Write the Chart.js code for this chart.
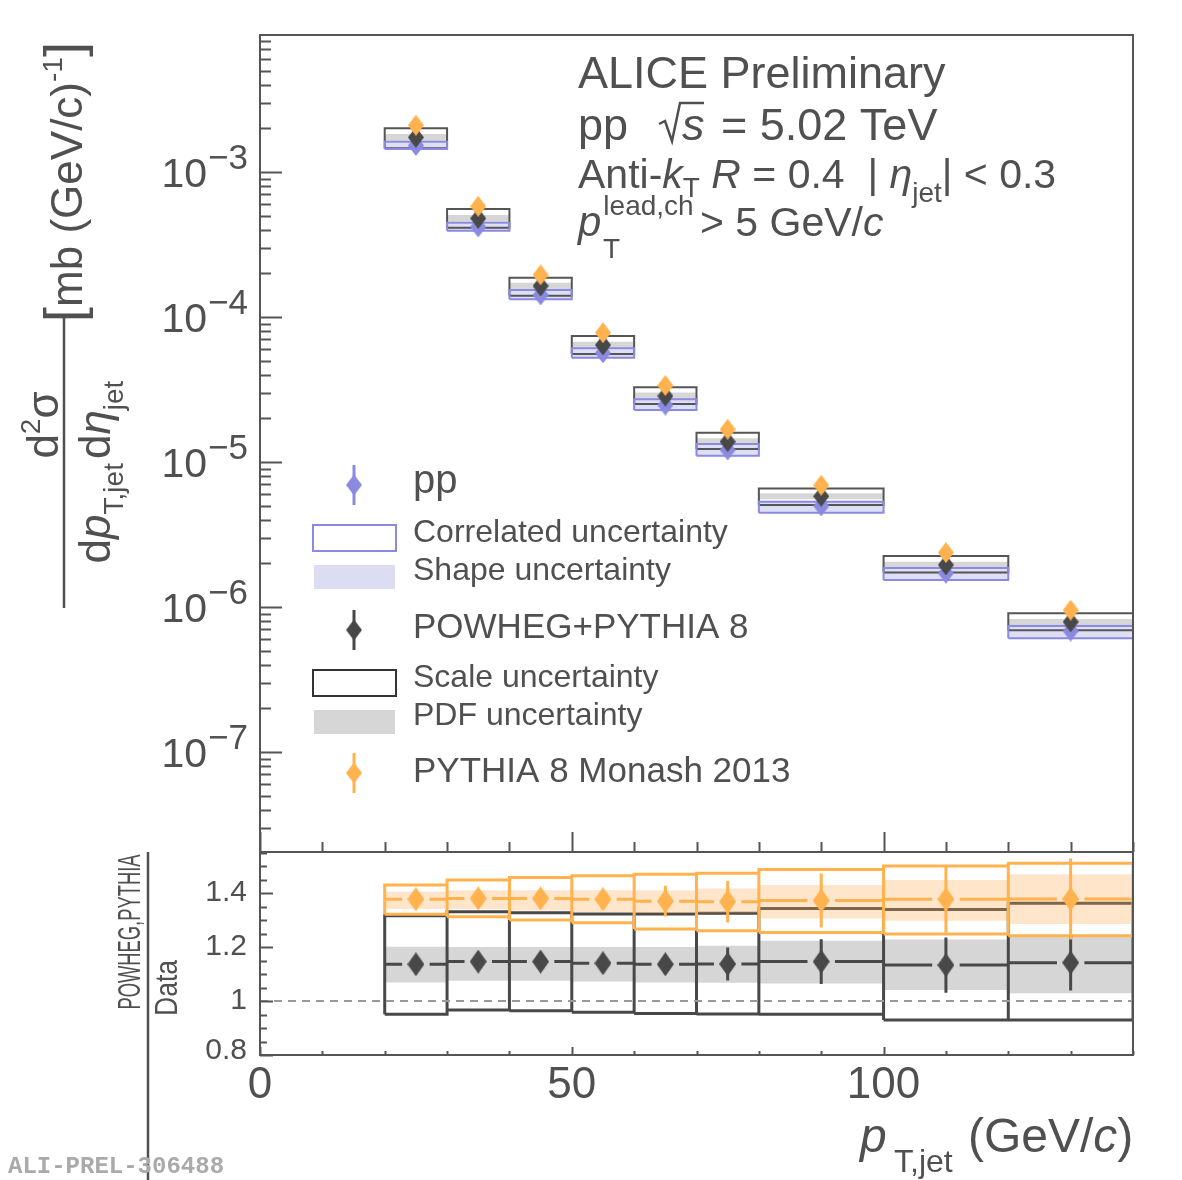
<!DOCTYPE html>
<html>
<head>
<meta charset="utf-8">
<script src="https://cdn.jsdelivr.net/npm/chart.js@4.4.1/dist/chart.umd.min.js"></script>
<style>
  html, body { margin: 0; padding: 0; background: #fff; }
  #wrap { position: relative; width: 1182px; height: 1180px; }
  canvas { position: absolute; left: 0; }
  #topChart { top: 0; }
  #ratioChart { top: 850px; }
</style>
</head>
<body>
<div id="wrap">
  <canvas id="topChart" width="1182" height="860" style="width:1182px;height:860px"></canvas>
  <canvas id="ratioChart" width="1182" height="330" style="width:1182px;height:330px"></canvas>
</div>
<script>
// jet pT bins (GeV/c)
const binLo = [20, 30, 40, 50, 60, 70, 80, 100, 120];
const binHi = [30, 40, 50, 60, 70, 80, 100, 120, 140];
const binMid = [25, 35, 45, 55, 65, 75, 90, 110, 130];

// cross sections, mb (GeV/c)^-1
const ppXsec = [1.524e-3, 4.18e-4, 1.418e-4, 5.65e-5, 2.47e-5, 1.21e-5, 4.97e-6, 1.71e-6, 6.82e-7];
const ppCorrHi = [1.618e-3, 4.47e-4, 1.536e-4, 6.08e-5, 2.71e-5, 1.33e-5, 5.32e-6, 1.858e-6, 7.40e-7];
const ppCorrLo = [1.441e-3, 3.94e-4, 1.325e-4, 5.24e-5, 2.28e-5, 1.105e-5, 4.47e-6, 1.536e-6, 6.08e-7];
const ppShapeHi = [1.60e-3, 4.42e-4, 1.52e-4, 6.00e-5, 2.68e-5, 1.32e-5, 5.40e-6, 1.88e-6, 7.55e-7];
const ppShapeLo = [1.45e-3, 3.97e-4, 1.335e-4, 5.28e-5, 2.30e-5, 1.115e-5, 4.50e-6, 1.55e-6, 6.10e-7];
const powXsec = [1.734e-3, 4.79e-4, 1.636e-4, 6.41e-5, 2.85e-5, 1.38e-5, 5.80e-6, 1.95e-6, 7.88e-7];
const powScaleHi = [2.001e-3, 5.56e-4, 1.866e-4, 7.39e-5, 3.27e-5, 1.592e-5, 6.55e-6, 2.25e-6, 9.05e-7];
const powScaleLo = [1.457e-3, 4.13e-4, 1.403e-4, 5.56e-5, 2.51e-5, 1.23e-5, 5.05e-6, 1.726e-6, 6.91e-7];
const powPdfHi = [1.828e-3, 5.05e-4, 1.724e-4, 6.76e-5, 3.01e-5, 1.457e-5, 6.08e-6, 2.05e-6, 8.26e-7];
const powPdfLo = [1.644e-3, 4.54e-4, 1.552e-4, 6.08e-5, 2.71e-5, 1.31e-5, 5.53e-6, 1.849e-6, 7.48e-7];
const pyXsec = [2.10e-3, 5.80e-4, 1.95e-4, 7.79e-5, 3.37e-5, 1.68e-5, 6.91e-6, 2.37e-6, 9.50e-7];

// ratios to data
const powRatio = [1.136, 1.146, 1.146, 1.140, 1.136, 1.137, 1.146, 1.133, 1.142];
const powRatioErr = [0.010, 0.015, 0.020, 0.025, 0.035, 0.061, 0.083, 0.102, 0.103];
const powRatioScaleHi = [1.316, 1.331, 1.327, 1.322, 1.322, 1.325, 1.343, 1.339, 1.362];
const powRatioScaleLo = [0.951, 0.967, 0.964, 0.958, 0.954, 0.952, 0.951, 0.930, 0.930];
const powRatioPdfHi = [1.201, 1.200, 1.200, 1.200, 1.200, 1.205, 1.223, 1.228, 1.241];
const powRatioPdfLo = [1.069, 1.075, 1.075, 1.072, 1.069, 1.068, 1.065, 1.041, 1.029];
const pyRatio = [1.377, 1.380, 1.380, 1.377, 1.370, 1.368, 1.372, 1.377, 1.378];
const pyRatioErr = [0.015, 0.020, 0.025, 0.035, 0.057, 0.077, 0.100, 0.123, 0.150];
const pyRatioBoxHi = [1.430, 1.448, 1.458, 1.464, 1.470, 1.473, 1.487, 1.500, 1.510];
const pyRatioBoxLo = [1.321, 1.312, 1.300, 1.290, 1.267, 1.260, 1.254, 1.248, 1.242];
const pyRatioBandHi = [1.405, 1.410, 1.410, 1.410, 1.410, 1.417, 1.430, 1.448, 1.470];
const pyRatioBandLo = [1.341, 1.340, 1.335, 1.330, 1.325, 1.325, 1.306, 1.297, 1.285];

// axes
const xTicks = [0, 10, 20, 30, 40, 50, 60, 70, 80, 90, 100, 110, 120, 130, 140];
const xLabels = [0, 50, 100];
const yDecades = [-8, -7, -6, -5, -4, -3, -2];
const yLabelDecades = [-7, -6, -5, -4, -3];
const ratioTicks = [0.8, 0.85, 0.9, 0.95, 1.0, 1.05, 1.1, 1.15, 1.2, 1.25, 1.3, 1.35, 1.4, 1.45, 1.5, 1.55];
const ratioLabels = [0.8, 1, 1.2, 1.4];

const FONT = '"Liberation Sans", Arial, Helvetica, sans-serif';
const TXT = '#505050';
const FRAME = '#555555';
const BLUE = '#8a8ae0';
const DARK = '#484848';
const ORANGE = '#ffb24d';
const GRAY_BAND = '#d6d6d6';
const LAV = 'rgba(160,160,228,0.35)';

function diamond(color, w, h) {
  const c = document.createElement('canvas');
  c.width = w; c.height = h;
  const g = c.getContext('2d');
  g.fillStyle = color;
  g.beginPath();
  g.moveTo(w / 2, 0); g.lineTo(w, h / 2); g.lineTo(w / 2, h); g.lineTo(0, h / 2);
  g.closePath();
  g.fill();
  return c;
}
const dBlue = diamond(BLUE, 16, 21);
const dDark = diamond(DARK, 16, 21);
const dOrange = diamond(ORANGE, 16, 21);
const dDarkR = diamond(DARK, 17, 24);
const dOrangeR = diamond(ORANGE, 17, 24);

// step outline: flat over each bin, vertical jump at bin edges
function stepPts(vals) {
  const pts = [];
  binLo.forEach((x0, i) => {
    pts.push({ x: x0, y: vals[i] }, { x: binHi[i], y: vals[i] });
  });
  return pts;
}
function boxPts(lo, hi) {
  const pts = [];
  binLo.forEach((x0, i) => {
    const x1 = binHi[i];
    pts.push({ x: x0, y: lo[i] }, { x: x0, y: hi[i] }, { x: x1, y: hi[i] },
             { x: x1, y: lo[i] }, { x: x0, y: lo[i] }, { x: x1, y: null });
  });
  return pts;
}
function hBarPts(vals, gap) {
  const pts = [];
  binMid.forEach((m, i) => {
    pts.push({ x: binLo[i], y: vals[i] }, { x: m - gap, y: vals[i] }, { x: m, y: null },
             { x: m + gap, y: vals[i] }, { x: binHi[i], y: vals[i] }, { x: binHi[i], y: null });
  });
  return pts;
}
function vBarPts(vals, errs) {
  const pts = [];
  binMid.forEach((m, i) => {
    pts.push({ x: m, y: vals[i] - errs[i] }, { x: m, y: vals[i] + errs[i] }, { x: m, y: null });
  });
  return pts;
}
function markerPts(vals) {
  return binMid.map((x, i) => ({ x: x, y: vals[i] }));
}

function lineDs(data, color, width, extra) {
  return Object.assign({
    type: 'line', data: data, borderColor: color, borderWidth: width,
    pointRadius: 0, fill: false, spanGaps: false, tension: 0
  }, extra || {});
}
function markerDs(data, img) {
  return { type: 'scatter', data: data, pointStyle: img, pointRadius: 10, showLine: false };
}
// band = pair of step lines, the second filled down to the first
function addBand(list, lo, hi, color) {
  const idx = list.length;
  list.push(lineDs(stepPts(lo), 'rgba(0,0,0,0)', 0));
  list.push(lineDs(stepPts(hi), 'rgba(0,0,0,0)', 0, { fill: { target: idx }, backgroundColor: color }));
}
function setOrder(list) {
  list.forEach((d, i) => { d.order = list.length - i; });
  return list;
}

// ---------- text helpers ----------
function rich(ctx, x, y, parts, color) {
  let cx = x;
  parts.forEach(p => {
    ctx.font = (p.it ? 'italic ' : '') + p.s + 'px ' + FONT;
    if (p.ax !== undefined) cx = x + p.ax;
    cx += p.dx || 0;
    ctx.fillStyle = p.c || color || TXT;
    ctx.fillText(p.t, cx, y + (p.dy || 0));
    cx += ctx.measureText(p.t).width;
  });
  return cx - x;
}
function richWidth(ctx, parts) {
  let w = 0;
  parts.forEach(p => {
    ctx.font = (p.it ? 'italic ' : '') + p.s + 'px ' + FONT;
    w += (p.dx || 0) + ctx.measureText(p.t).width;
  });
  return w;
}
// text rotated by -90deg, centred on image y = yc, baseline at image x = xb,
// optionally squeezed to a given length
function richUp(ctx, xb, yc, parts, len) {
  const w = richWidth(ctx, parts);
  const k = len ? len / w : 1;
  ctx.save();
  ctx.translate(xb, yc + w * k / 2);
  ctx.rotate(-Math.PI / 2);
  ctx.scale(k, 1);
  rich(ctx, 0, 0, parts);
  ctx.restore();
}
function vline(ctx, x, y0, y1, w, color) {
  ctx.strokeStyle = color; ctx.lineWidth = w;
  ctx.beginPath(); ctx.moveTo(x, y0); ctx.lineTo(x, y1); ctx.stroke();
}

// ---------- top panel ----------
const topSets = [];
addBand(topSets, powPdfLo, powPdfHi, GRAY_BAND);
addBand(topSets, ppShapeLo, ppShapeHi, LAV);
topSets.push(lineDs(boxPts(powScaleLo, powScaleHi), '#555555', 2));
topSets.push(lineDs(boxPts(ppCorrLo, ppCorrHi), BLUE, 2));
topSets.push(markerDs(markerPts(ppXsec), dBlue));
topSets.push(markerDs(markerPts(powXsec), dDark));
topSets.push(markerDs(markerPts(pyXsec), dOrange));
setOrder(topSets);

const topDeco = {
  id: 'topDeco',
  afterDatasetsDraw(chart) {
    const ctx = chart.ctx;
    const a = chart.chartArea;
    const xs = chart.scales.x, ys = chart.scales.y;
    ctx.save();
    // log ticks on the left
    ctx.strokeStyle = FRAME; ctx.lineWidth = 2;
    yDecades.forEach(e => {
      for (let m = 1; m <= 9; m++) {
        const v = m * Math.pow(10, e);
        if (v < ys.min || v > ys.max) continue;
        const py = Math.round(ys.getPixelForValue(v)) + 0.5;
        ctx.beginPath(); ctx.moveTo(a.left, py); ctx.lineTo(a.left + (m === 1 ? 22 : 11), py); ctx.stroke();
      }
    });
    xTicks.forEach(v => {
      const px = Math.round(xs.getPixelForValue(v)) + 0.5;
      const len = xLabels.indexOf(v) >= 0 ? 20 : 10;
      ctx.beginPath(); ctx.moveTo(px, a.bottom); ctx.lineTo(px, a.bottom - len); ctx.stroke();
    });
    ctx.strokeRect(a.left, a.top, a.right - a.left, a.bottom - a.top);
    // decade labels
    ctx.textBaseline = 'alphabetic';
    yLabelDecades.forEach(e => {
      const py = ys.getPixelForValue(Math.pow(10, e));
      ctx.textAlign = 'right';
      ctx.font = '41px ' + FONT; ctx.fillStyle = TXT;
      ctx.fillText('10', 207, py + 15);
      ctx.textAlign = 'left';
      ctx.font = '35px ' + FONT;
      ctx.fillText('\u2212' + Math.abs(e), 208, py - 3);
    });
    ctx.textAlign = 'left';
    // header text
    rich(ctx, 578, 88, [{ t: 'ALICE Preliminary', s: 45 }]);
    rich(ctx, 578, 140, [{ t: 'pp', s: 45 }]);
    rich(ctx, 682, 140, [{ t: 's', s: 45, it: 1 }, { t: ' = 5.02 TeV', s: 45, dx: 4 }]);
    ctx.strokeStyle = TXT; ctx.lineWidth = 2.5;
    ctx.beginPath();
    ctx.moveTo(659, 124); ctx.lineTo(665, 121); ctx.lineTo(672, 141); ctx.lineTo(680, 103); ctx.lineTo(704, 103);
    ctx.stroke();
    rich(ctx, 578, 188, [
      { t: 'Anti-', s: 41 }, { t: 'k', s: 41, it: 1 }, { t: 'T', s: 28, dy: 9 },
      { t: ' ', s: 41 }, { t: 'R', s: 41, it: 1 }, { t: ' = 0.4  | ', s: 41 },
      { t: '\u03b7', s: 41, it: 1 }, { t: 'jet', s: 28, dy: 14 }, { t: '| < 0.3', s: 41 }
    ]);
    rich(ctx, 578, 236, [
      { t: 'p', s: 42, it: 1 }, { t: 'lead,ch', s: 28, dy: -21, dx: 2 }
    ]);
    rich(ctx, 603, 258, [{ t: 'T', s: 28 }]);
    rich(ctx, 700, 236, [{ t: '> 5 GeV/', s: 41 }, { t: 'c', s: 41, it: 1 }]);

    // legend
    const leg = [
      { y: 485, img: dBlue, col: BLUE, label: 'pp', s: 40, base: 493 },
      { y: 630, img: dDark, col: DARK, label: 'POWHEG+PYTHIA 8', s: 35, base: 638 },
      { y: 773, img: dOrange, col: ORANGE, label: 'PYTHIA 8 Monash 2013', s: 35, base: 782 }
    ];
    leg.forEach(l => {
      vline(ctx, 354, l.y - 20, l.y + 20, 3, l.col);
      ctx.drawImage(l.img, 354 - l.img.width / 2, l.y - l.img.height / 2);
      rich(ctx, 413, l.base, [{ t: l.label, s: l.s }]);
    });
    ctx.lineWidth = 2;
    ctx.strokeStyle = BLUE; ctx.strokeRect(313, 525, 83, 26);
    ctx.fillStyle = '#dcdcf2'; ctx.fillRect(314, 565, 81, 24);
    ctx.strokeStyle = '#333333'; ctx.strokeRect(313, 670, 83, 26);
    ctx.fillStyle = GRAY_BAND; ctx.fillRect(314, 710, 81, 24);
    rich(ctx, 413, 542, [{ t: 'Correlated uncertainty', s: 32 }]);
    rich(ctx, 413, 580, [{ t: 'Shape uncertainty', s: 32 }]);
    rich(ctx, 413, 687, [{ t: 'Scale uncertainty', s: 32 }]);
    rich(ctx, 413, 725, [{ t: 'PDF uncertainty', s: 32 }]);

    // y title
    richUp(ctx, 58, 425, [{ t: 'd', s: 44 }, { t: '2', s: 28, dy: -18 }, { t: '\u03c3', s: 44 }]);
    vline(ctx, 64, 318, 608, 2.5, TXT);
    richUp(ctx, 110, 472, [
      { t: 'd', s: 44 }, { t: 'p', s: 44, it: 1 }, { t: 'T,jet', s: 28, dy: 13 },
      { t: 'd', s: 44, dx: 4 }, { t: '\u03b7', s: 44, it: 1 }, { t: 'jet', s: 28, dy: 13 }
    ]);
    richUp(ctx, 82, 182, [
      { t: '[', s: 54 }, { t: 'mb (GeV/c)', s: 44 }, { t: '-1', s: 28, dy: -20 }, { t: ']', s: 54 }
    ]);
    ctx.restore();
  }
};

new Chart(document.getElementById('topChart'), {
  type: 'scatter',
  data: { datasets: topSets },
  options: {
    responsive: false, animation: false, devicePixelRatio: 1, events: [],
    layout: { autoPadding: false, padding: { top: 35, right: 49, left: 0, bottom: 0 } },
    plugins: { legend: { display: false }, tooltip: { enabled: false } },
    scales: {
      x: {
        type: 'linear', min: 0, max: 140,
        grid: { display: false, drawTicks: false }, border: { display: false },
        ticks: { display: false },
        afterFit: s => { s.height = 8; s.paddingLeft = 0; s.paddingRight = 0; }
      },
      y: {
        type: 'logarithmic', min: 2.04e-8, max: 8.81e-3,
        grid: { display: false, drawTicks: false }, border: { display: false },
        ticks: { display: false },
        afterFit: s => { s.width = 260; s.paddingTop = 0; s.paddingBottom = 0; }
      }
    }
  },
  plugins: [topDeco]
});

// ---------- ratio panel ----------
const ratioSets = [];
addBand(ratioSets, powRatioPdfLo, powRatioPdfHi, GRAY_BAND);
ratioSets.push(lineDs(boxPts(powRatioScaleLo, powRatioScaleHi), DARK, 3));
addBand(ratioSets, pyRatioBandLo, pyRatioBandHi, 'rgba(255,170,80,0.3)');
ratioSets.push(lineDs(boxPts(pyRatioBoxLo, pyRatioBoxHi), ORANGE, 3));
ratioSets.push(lineDs([{ x: 0, y: 1 }, { x: 140, y: 1 }], '#999999', 2, { borderDash: [8, 6] }));
ratioSets.push(lineDs(hBarPts(powRatio, 2.2), DARK, 3));
ratioSets.push(lineDs(vBarPts(powRatio, powRatioErr), DARK, 3));
ratioSets.push(markerDs(markerPts(powRatio), dDarkR));
ratioSets.push(lineDs(hBarPts(pyRatio, 2.2), ORANGE, 3));
ratioSets.push(lineDs(vBarPts(pyRatio, pyRatioErr), ORANGE, 3));
ratioSets.push(markerDs(markerPts(pyRatio), dOrangeR));
setOrder(ratioSets);

const ratioDeco = {
  id: 'ratioDeco',
  afterDatasetsDraw(chart) {
    const ctx = chart.ctx;
    const a = chart.chartArea;
    const xs = chart.scales.x, ys = chart.scales.y;
    ctx.save();
    ctx.strokeStyle = FRAME; ctx.lineWidth = 2;
    ratioTicks.forEach(v => {
      const py = Math.round(ys.getPixelForValue(v)) + 0.5;
      const len = ratioLabels.indexOf(v) >= 0 ? 13 : 7;
      ctx.beginPath(); ctx.moveTo(a.left, py); ctx.lineTo(a.left + len, py); ctx.stroke();
    });
    xTicks.forEach(v => {
      const px = Math.round(xs.getPixelForValue(v)) + 0.5;
      const len = xLabels.indexOf(v) >= 0 ? 8 : 4;
      ctx.beginPath(); ctx.moveTo(px, a.bottom); ctx.lineTo(px, a.bottom - len); ctx.stroke();
    });
    ctx.strokeRect(a.left, a.top, a.right - a.left, a.bottom - a.top);

    // y tick labels
    ctx.font = '30px ' + FONT; ctx.fillStyle = TXT;
    ctx.textAlign = 'right'; ctx.textBaseline = 'middle';
    ratioLabels.forEach(v => {
      const py = ys.getPixelForValue(v) - (v === ratioLabels[0] ? 4 : 0);
      ctx.fillText(String(v), 247, py);
    });
    ctx.textAlign = 'left'; ctx.textBaseline = 'alphabetic';

    // x title
    rich(ctx, 860, 302, [{ t: 'p', s: 48, it: 1 }]);
    rich(ctx, 894, 322, [{ t: 'T,jet', s: 32 }]);
    rich(ctx, 968, 302, [{ t: '(GeV/', s: 48 }, { t: 'c', s: 48, it: 1 }, { t: ')', s: 48 }]);

    // y title
    richUp(ctx, 140, 82, [{ t: 'POWHEG,PYTHIA', s: 32 }], 155);
    vline(ctx, 148, 2, 330, 2.5, TXT);
    richUp(ctx, 177, 138, [{ t: 'Data', s: 32 }], 56);

    // watermark
    ctx.font = 'bold 24px "Liberation Mono", "Courier New", monospace';
    ctx.fillStyle = '#aaaaaa';
    ctx.fillText('ALI-PREL-306488', 8, 323);
    ctx.restore();
  }
};

new Chart(document.getElementById('ratioChart'), {
  type: 'scatter',
  data: { datasets: ratioSets },
  options: {
    responsive: false, animation: false, devicePixelRatio: 1, events: [],
    layout: { autoPadding: false, padding: { top: 2, right: 49, left: 0, bottom: 0 } },
    plugins: { legend: { display: false }, tooltip: { enabled: false } },
    scales: {
      x: {
        type: 'linear', min: 0, max: 140,
        grid: { display: false, drawTicks: false }, border: { display: false },
        afterBuildTicks: s => { s.ticks = xTicks.map(v => ({ value: v })); },
        ticks: {
          autoSkip: false, maxRotation: 0, padding: 4, color: TXT,
          font: { family: FONT, size: 44 },
          callback: v => (xLabels.indexOf(v) >= 0 ? String(v) : '')
        },
        afterFit: s => { s.height = 125; s.paddingLeft = 0; s.paddingRight = 0; }
      },
      y: {
        type: 'linear', min: 0.8, max: 1.552,
        grid: { display: false, drawTicks: false }, border: { display: false },
        ticks: { display: false },
        afterFit: s => { s.width = 260; s.paddingTop = 0; s.paddingBottom = 0; }
      }
    }
  },
  plugins: [ratioDeco]
});
</script>
</body>
</html>
